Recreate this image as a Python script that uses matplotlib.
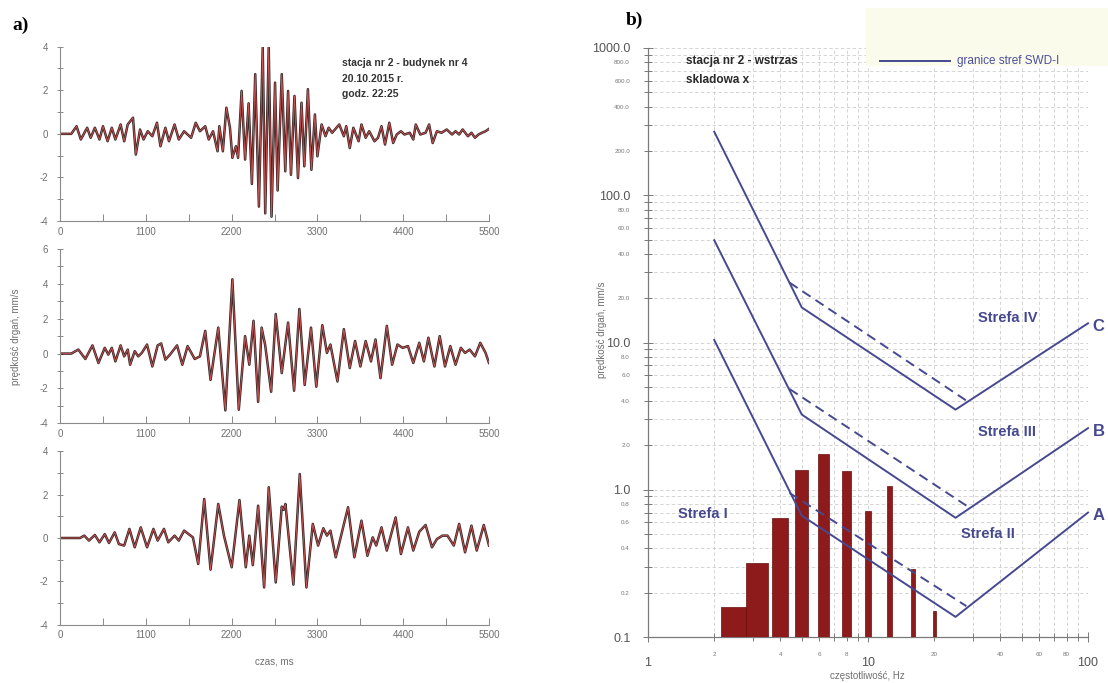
import matplotlib.pyplot as plt
from matplotlib.patches import Rectangle
from matplotlib.lines import Line2D
from matplotlib.ticker import FixedLocator, FuncFormatter, MultipleLocator

W, H = 1108, 683

# panel a) - velocity records, turning points as (time [ms], velocity [mm/s])
trace_1 = [(0, 0), (145, 0), (212, 0.35), (267, -0.26), (348, 0.28), (393, -0.18), (447, 0.28),
           (506, -0.26), (551, 0.35), (610, -0.34), (664, 0.28), (710, -0.26), (777, 0.43),
           (823, -0.34), (868, 0.43), (936, 0.74), (972, -0.95), (1026, 0.2), (1071, -0.26),
           (1125, 0.12), (1184, -0.11), (1243, 0.51), (1288, -0.57), (1351, 0.28), (1397, -0.34),
           (1469, 0.43), (1523, -0.26), (1591, 0.12), (1681, -0.18), (1740, 0.51), (1794, 0.12),
           (1862, 0.35), (1907, -0.26), (1962, 0.12), (2020, -0.8), (2043, 0.35), (2088, -0.8),
           (2133, 1.2), (2179, 0.28), (2210, -1.1), (2255, -0.57), (2283, -1.1), (2328, 1.97),
           (2373, -1.18), (2418, 1.4), (2460, -2.3), (2503, 2.74), (2550, -3.34), (2599, 3.97),
           (2631, -3.65), (2676, 3.97), (2712, -3.8), (2757, 2.35), (2790, -2.6), (2843, 2.74),
           (2888, -1.72), (2924, 1.97), (2961, -1.88), (3006, 1.74), (3051, -2.03), (3096, 1.43),
           (3132, -1.49), (3178, 2.05), (3223, -1.65), (3268, 0.89), (3300, -1.03), (3354, 0.43),
           (3404, -0.11), (3444, 0.28), (3489, 0.05), (3580, 0.43), (3639, -0.11), (3670, 0.35),
           (3715, -0.65), (3761, 0.28), (3828, -0.34), (3865, 0.43), (3919, -0.18), (3964, 0.12),
           (4032, -0.34), (4077, -0.18), (4122, 0.35), (4167, -0.49), (4222, 0.51), (4271, -0.42),
           (4317, -0.03), (4371, 0.12), (4416, -0.03), (4484, 0.05), (4529, -0.26), (4561, 0.43),
           (4619, -0.03), (4687, 0.05), (4732, 0.43), (4778, -0.42), (4832, 0.12), (4891, 0.05),
           (4958, 0.2), (5026, -0.03), (5071, 0.12), (5117, -0.03), (5162, 0.2), (5230, -0.11),
           (5275, 0.05), (5320, -0.18), (5365, -0.03), (5410, 0.05), (5456, 0.12), (5500, 0.23)]

trace_2 = [(0, 0), (145, 0), (235, 0.23), (325, -0.31), (416, 0.47), (493, -0.54), (574, 0.33),
           (619, -0.06), (664, 0.33), (710, -0.45), (777, 0.47), (823, -0.16), (868, 0.23),
           (899, -0.64), (958, 0.14), (1003, -0.16), (1049, 0.04), (1116, 0.52), (1184, -0.74),
           (1252, 0.47), (1297, 0.58), (1351, -0.35), (1410, -0.06), (1501, 0.47), (1568, -0.64),
           (1636, 0.43), (1727, -0.31), (1794, -0.16), (1862, 1.3), (1930, -1.51), (2029, 1.49),
           (2120, -3.26), (2210, 4.26), (2292, -3.22), (2373, 1.0), (2427, -0.64), (2481, 1.88),
           (2540, -2.77), (2585, 1.49), (2631, 0.47), (2707, -2.19), (2766, 2.27), (2843, -1.12),
           (2924, 1.78), (3001, -2.13), (3069, 2.56), (3137, -1.8), (3218, 1.49), (3286, -1.9),
           (3363, 1.63), (3422, 0.04), (3467, 0.52), (3557, -1.6), (3639, 1.4), (3715, -0.83),
           (3783, 0.72), (3851, -0.74), (3919, 0.72), (3987, -0.45), (4045, 0.81), (4109, -1.41),
           (4190, 1.59), (4258, -0.64), (4326, 0.52), (4393, 0.33), (4461, 0.43), (4529, -0.54),
           (4606, 0.62), (4665, -0.45), (4723, 0.91), (4800, -0.74), (4868, 1.0), (4936, -0.74),
           (5004, 0.43), (5071, -0.64), (5139, 0.33), (5193, 0.04), (5252, 0.23), (5320, -0.16),
           (5388, 0.62), (5456, 0.04), (5500, -0.54)]

trace_3 = [(0, 0), (257, 0), (312, 0.11), (371, -0.12), (447, 0.14), (506, -0.2), (574, 0.18),
           (628, -0.23), (701, 0.26), (755, -0.28), (823, -0.35), (890, 0.42), (958, -0.43),
           (1035, 0.49), (1116, -0.43), (1198, 0.42), (1252, -0.12), (1333, 0.42), (1388, -0.2),
           (1469, 0.11), (1523, -0.12), (1591, 0.34), (1704, 0.03), (1772, -1.2), (1849, 1.8),
           (1930, -1.46), (2029, 1.57), (2102, 0.11), (2201, -1.35), (2301, 1.75), (2382, -1.35),
           (2427, 0.11), (2472, -1.25), (2540, 1.49), (2617, -2.28), (2676, 2.34), (2766, -2.05),
           (2843, 1.45), (2866, 1.3), (2890, 1.57), (2992, -2.15), (3074, 2.95), (3159, -2.28),
           (3241, 0.65), (3309, -0.35), (3376, 0.45), (3422, 0.11), (3467, 0.34), (3535, -0.89),
           (3593, -0.05), (3693, 1.42), (3774, -0.89), (3865, 0.8), (3941, -0.82), (4009, 0.03),
           (4054, -0.35), (4122, 0.49), (4190, -0.58), (4303, 0.95), (4371, -0.74), (4461, 0.49),
           (4529, -0.58), (4606, 0.29), (4687, 0.6), (4769, -0.43), (4832, -0.05), (4904, 0.11),
           (4967, 0.11), (5049, -0.35), (5117, 0.65), (5193, -0.66), (5275, 0.57), (5343, -0.58),
           (5433, 0.6), (5500, -0.35)]

time_ticks = [0, 1100, 2200, 3300, 4400, 5500]
record_info = ["stacja nr 2 - budynek nr 4", "20.10.2015 r.", "godz. 22:25"]

# panel b) - 1/3 octave band peaks against SWD-I zone limits
band_freq = [2.5, 3.15, 4.0, 5.0, 6.3, 8.0, 10.0, 12.5, 16.0, 20.0]
band_peak = [0.16, 0.32, 0.64, 1.37, 1.75, 1.34, 0.72, 1.06, 0.29, 0.15]

limit_freq = [2, 5, 25, 100]
limit_A = [10.4, 0.667, 0.137, 0.70]
limit_B = [49.5, 3.24, 0.645, 2.62]
limit_C = [270, 17.3, 3.5, 13.5]

transition_freq = [4.4, 28]
transition_A = [0.95, 0.162]
transition_B = [4.83, 0.78]
transition_C = [25.5, 4.03]

zone_names = ["Strefa I", "Strefa II", "Strefa III", "Strefa IV"]
limit_names = ["A", "B", "C"]

plt.rcParams['font.family'] = ['Liberation Sans', 'DejaVu Sans']
plt.rcParams['axes.unicode_minus'] = False


def box(x0, y0, x1, y1):
    return [x0 / W, 1 - y1 / H, (x1 - x0) / W, (y1 - y0) / H]


def fx(x):
    return x / W


def fy(y):
    return 1 - y / H


def mantissa(v):
    return round(v / 10 ** int(f"{v:e}"[-3:]))


fig = plt.figure(figsize=(W / 100, H / 100), dpi=100)

grey = '#6f6f6f'
ink = '#46498f'

# ---- panel a
panels = [(trace_1, 46.7, 221.0, (-4, 4)),
          (trace_2, 249.0, 423.3, (-4, 6)),
          (trace_3, 451.3, 624.7, (-4, 4))]
for trace, top, bottom, ylim in panels:
    ax = fig.add_axes(box(60, top, 489, bottom))
    t = [p[0] for p in trace]
    v = [p[1] for p in trace]
    ax.plot(t, v, color='#3d2626', lw=1.8, solid_joinstyle='round')
    ax.plot(t, v, color='#e05a5a', lw=0.6, alpha=0.9)
    ax.set_xlim(0, 5500)
    ax.set_ylim(*ylim)
    for s in ['top', 'right']:
        ax.spines[s].set_visible(False)
    for s in ['left', 'bottom']:
        ax.spines[s].set_color('#8a8a8a')
        ax.spines[s].set_linewidth(0.8)
    ax.set_xticks(time_ticks)
    ax.xaxis.set_minor_locator(MultipleLocator(550))
    ax.yaxis.set_major_locator(MultipleLocator(2))
    ax.yaxis.set_minor_locator(MultipleLocator(1))
    ax.tick_params(axis='x', which='both', direction='in', length=5, width=0.7,
                   color='#8a8a8a', labelsize=7, labelcolor=grey, pad=4)
    ax.tick_params(axis='y', which='both', direction='inout', length=5, width=0.7,
                   color='#8a8a8a', labelsize=7, labelcolor=grey, pad=6)
    ax.patch.set_alpha(0)

for i, line in enumerate(record_info):
    fig.text(fx(342), fy(63 + i * 15.5), line, fontsize=7.5, fontweight='bold',
             color='#333333', va='center', ha='left')

fig.text(fx(16), fy(337), "prędkość drgań, mm/s", rotation=90, fontsize=7,
         color=grey, ha='center', va='center')
fig.text(fx(274), fy(662), "czas, ms", fontsize=7, color=grey, ha='center', va='center')
fig.text(fx(12), fy(25), "a)", fontsize=14, fontweight='bold',
         family='Liberation Serif', va='center', ha='left')

# ---- panel b
ax2 = fig.add_axes(box(648, 48, 1088, 637))
ax2.set_xscale('log')
ax2.set_yscale('log')
ax2.set_xlim(1, 100)
ax2.set_ylim(0.1, 1000)

heights = [p - 0.1 for p in band_peak]
ax2.bar(band_freq, heights, bottom=0.1, width=0.7, color='#8e1b1b',
        edgecolor='#6a0f0f', linewidth=0.5, zorder=3)

for lim in (limit_A, limit_B, limit_C):
    ax2.plot(limit_freq, lim, color=ink, lw=1.4, zorder=4, clip_on=False)
for tr in (transition_A, transition_B, transition_C):
    ax2.plot(transition_freq, tr, color=ink, lw=1.4, ls=(0, (5, 3)), zorder=4)

dec = [1, 10]
ax2.xaxis.set_major_locator(FixedLocator([1, 10, 100]))
ax2.xaxis.set_minor_locator(FixedLocator([m * d for d in dec for m in range(2, 10)]))
ax2.xaxis.set_major_formatter(FuncFormatter(lambda v, _: f"{v:g}"))
ax2.xaxis.set_minor_formatter(FuncFormatter(
    lambda v, _: f"{v:g}" if mantissa(v) in (2, 4, 6, 8) else ""))

ydec = [0.1, 1, 10, 100]
ax2.yaxis.set_major_locator(FixedLocator([0.1, 1, 10, 100, 1000]))
ax2.yaxis.set_minor_locator(FixedLocator([m * d for d in ydec for m in range(2, 10)]))
ax2.yaxis.set_major_formatter(FuncFormatter(lambda v, _: "0.1" if v < 0.5 else f"{v:.1f}"))
ax2.yaxis.set_minor_formatter(FuncFormatter(
    lambda v, _: f"{v:.1f}" if mantissa(v) in (2, 4, 6, 8) else ""))

ax2.tick_params(axis='both', which='both', direction='inout', color='#7a7a7a', width=0.7)
ax2.tick_params(axis='x', which='major', length=7, labelsize=9, labelcolor='#555555', pad=11)
ax2.tick_params(axis='x', which='minor', length=6, labelsize=4.5, labelcolor='#777777', pad=8)
ax2.tick_params(axis='y', which='major', length=7, labelsize=9, labelcolor='#555555', pad=9)
ax2.tick_params(axis='y', which='minor', length=6, labelsize=4.5, labelcolor='#777777', pad=10)

ax2.grid(which='both', ls=(0, (4, 3)), color='#cdcdcd', lw=0.6, zorder=0)
for s in ['top', 'right']:
    ax2.spines[s].set_visible(False)
for s in ['left', 'bottom']:
    ax2.spines[s].set_color('#7a7a7a')
    ax2.spines[s].set_linewidth(0.9)

zone_pos = [(1.78, 0.68), (35.0, 0.5), (43.0, 2.47), (43.0, 14.7)]
for name, (x, y) in zip(zone_names, zone_pos):
    ax2.text(x, y, name, fontsize=10.5, fontweight='bold', color=ink,
             ha='center', va='center', zorder=5)
for name, lim in zip(limit_names, (limit_A, limit_B, limit_C)):
    ax2.text(105, lim[-1] * 0.95, name, fontsize=12, fontweight='bold', color=ink,
             ha='left', va='center', clip_on=False)

fig.text(fx(686), fy(61), "stacja nr 2 - wstrzas", fontsize=8.5, fontweight='bold',
         color='#2a2a2a', va='center')
fig.text(fx(686), fy(80), "skladowa x", fontsize=8.5, fontweight='bold',
         color='#2a2a2a', va='center')

fig.add_artist(Rectangle((fx(866), fy(66)), (1108 - 866) / W, 58 / H,
                         transform=fig.transFigure, facecolor='#fbfbeb',
                         edgecolor='none', zorder=2))
fig.add_artist(Line2D([fx(880), fx(950)], [fy(61), fy(61)], color=ink, lw=1.4,
                      transform=fig.transFigure, zorder=3))
fig.text(fx(957), fy(61), "granice stref SWD-I", fontsize=8.5, color='#4a4fa0',
         va='center', zorder=3)

fig.text(fx(602), fy(330), "prędkość drgań, mm/s", rotation=90, fontsize=7,
         color=grey, ha='center', va='center')
fig.text(fx(867), fy(676), "częstotliwość, Hz", fontsize=7, color=grey,
         ha='center', va='center')
fig.text(fx(626), fy(20), "b)", fontsize=14, fontweight='bold',
         family='Liberation Serif', va='center', ha='left')

fig.savefig('out.png', dpi=100)
